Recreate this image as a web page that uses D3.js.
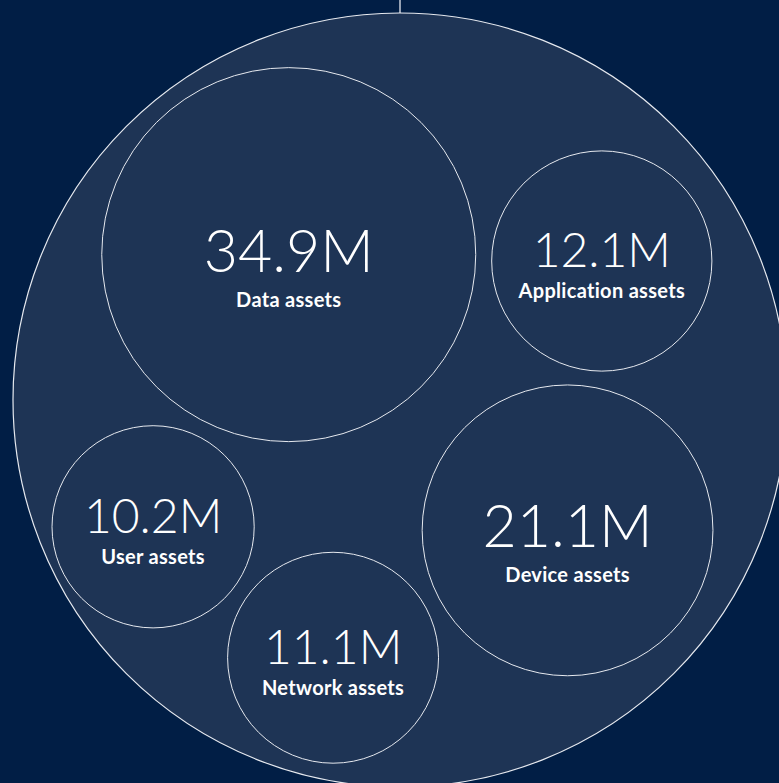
<!DOCTYPE html>
<html>
<head>
<meta charset="utf-8">
<script src="https://cdn.jsdelivr.net/npm/d3@7"></script>
<style>
  html, body { margin: 0; padding: 0; background: #011e45; }
  svg { display: block; }
</style>
</head>
<body>
<svg id="chart"></svg>
<script>
const width = 779;
const height = 783;
const categories = ["Data assets", "Application assets", "Device assets", "Network assets", "User assets"];
const values = [34.9, 12.1, 21.1, 11.1, 10.2];   // millions
const valueLabels = ["34.9M", "12.1M", "21.1M", "11.1M", "10.2M"];

const cx = 400, cy = 400, R = 387;
// inner ring sits a little left of the outer bubble's centre
const ringX = cx - 12, ringY = cy + 3;
const ringMargin = 22;
const pad = 8;
const rotation = -Math.PI / 2 + 7 * Math.PI / 180;

const svg = d3.select('#chart')
    .attr('width', width)
    .attr('height', height)
    .attr('viewBox', [0, 0, width, height]);

svg.append('rect')
    .attr('width', width).attr('height', height)
    .attr('fill', '#011e45');

// stem on top of the outer bubble
svg.append('line')
    .attr('x1', cx).attr('x2', cx)
    .attr('y1', 0).attr('y2', cy - R)
    .attr('stroke', '#c9ced8')
    .attr('stroke-width', 1.5);

svg.append('circle')
    .attr('cx', cx).attr('cy', cy).attr('r', R)
    .attr('fill', '#1e3455')
    .attr('stroke', '#e6e9ef')
    .attr('stroke-width', 1.2);

const r = d3.scaleSqrt([0, d3.max(values)], [0, 187]);

const nodes = categories.map((c, i) => ({
  name: c, value: values[i], label: valueLabels[i], r: r(values[i])
}));

// seed bubbles around the ring, angle share by radius
const arcs = d3.pie().sort(null).value(d => d.r)
    .startAngle(rotation).endAngle(rotation + 2 * Math.PI)(nodes);
arcs.forEach(a => {
  let d = a.data;
  let ang = (a.startAngle + a.endAngle) / 2;
  let rho = R - d.r - ringMargin;
  d.x = ringX + rho * Math.sin(ang);
  d.y = ringY - rho * Math.cos(ang);
});

const sim = d3.forceSimulation(nodes)
    .force('radial', d3.forceRadial(d => R - d.r - ringMargin, ringX, ringY).strength(0.6))
    .force('collide', d3.forceCollide(d => d.r + pad).strength(1).iterations(4))
    .stop();
for (let i = 0; i < 400; i++) sim.tick();

const bubble = svg.append('g').selectAll('g')
  .data(nodes)
  .join('g')
    .attr('transform', d => `translate(${d.x},${d.y})`);

bubble.append('circle')
    .attr('r', d => d.r)
    .attr('fill', '#1e3455')
    .attr('stroke', '#e6e9ef')
    .attr('stroke-width', 1);

const big = d => d.value >= 20;

bubble.append('text')
    .attr('text-anchor', 'middle')
    .attr('y', d => big(d) ? 17 : 6)
    .attr('font-family', 'Lato, sans-serif')
    .attr('font-weight', 300)
    .attr('font-size', d => big(d) ? '59px' : '48px')
    .attr('fill', '#ffffff')
    .text(d => d.label);

bubble.append('text')
    .attr('text-anchor', 'middle')
    .attr('y', d => big(d) ? 52 : 37)
    .attr('font-family', 'Lato, sans-serif')
    .attr('font-weight', 700)
    .attr('font-size', '20px')
    .attr('letter-spacing', '0.3px')
    .attr('fill', '#ffffff')
    .text(d => d.name);
</script>
</body>
</html>
